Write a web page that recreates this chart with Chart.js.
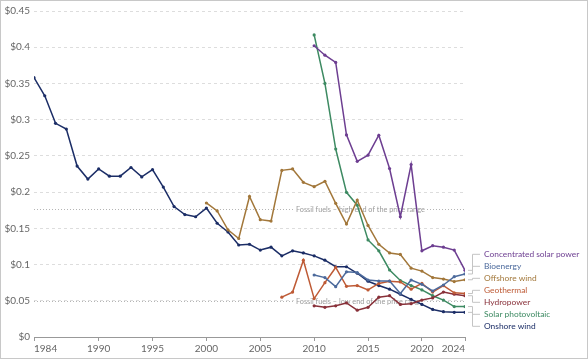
<!DOCTYPE html>
<html><head><meta charset="utf-8">
<script src="https://cdn.jsdelivr.net/npm/chart.js@4.4.1/dist/chart.umd.min.js"></script>
<style>
html,body{margin:0;padding:0;background:#fff;}
canvas{display:block;}
</style></head><body>
<canvas id="c" width="588" height="359"></canvas>
<script>
// ---- data (USD per kWh) ----
const xTickLabels = [1984, 1990, 1995, 2000, 2005, 2010, 2015, 2020, 2024];
const yTickValues = [0, 0.05, 0.1, 0.15, 0.2, 0.25, 0.3, 0.35, 0.4, 0.45];

const yearsOnshore = [1984,1985,1986,1987,1988,1989,1990,1991,1992,1993,1994,1995,1996,1997,1998,1999,2000,2001,2002,2003,2004,2005,2006,2007,2008,2009,2010,2011,2012,2013,2014,2015,2016,2017,2018,2019,2020,2021,2022,2023,2024];
const onshoreWind = [0.358,0.333,0.295,0.287,0.236,0.218,0.232,0.222,0.222,0.234,0.221,0.231,0.207,0.180,0.169,0.166,0.178,0.157,0.145,0.127,0.128,0.120,0.124,0.112,0.119,0.116,0.112,0.106,0.097,0.097,0.088,0.077,0.071,0.066,0.059,0.052,0.045,0.038,0.035,0.034,0.034];

const yearsOffshore = [2000,2001,2002,2003,2004,2005,2006,2007,2008,2009,2010,2011,2012,2013,2014,2015,2016,2017,2018,2019,2020,2021,2022,2023,2024];
const offshoreWind = [0.185,0.174,0.148,0.136,0.194,0.162,0.160,0.230,0.232,0.2135,0.2075,0.215,0.1845,0.156,0.189,0.154,0.128,0.116,0.114,0.095,0.091,0.082,0.080,0.0765,0.079];

const yearsGeothermal = [2007,2008,2009,2010,2011,2012,2013,2014,2015,2016,2017,2018,2019,2020,2021,2022,2023,2024];
const geothermal = [0.055,0.062,0.106,0.053,0.075,0.096,0.070,0.071,0.065,0.074,0.077,0.076,0.066,0.074,0.062,0.071,0.061,0.060];

const years2010 = [2010,2011,2012,2013,2014,2015,2016,2017,2018,2019,2020,2021,2022,2023,2024];
const hydropower = [0.043,0.041,0.043,0.047,0.037,0.041,0.055,0.057,0.045,0.046,0.051,0.054,0.062,0.059,0.057];
const bioenergy = [0.0856,0.082,0.0695,0.090,0.089,0.0787,0.0773,0.0773,0.060,0.0787,0.0727,0.0635,0.0718,0.0833,0.087];
const solarPV = [0.417,0.350,0.2595,0.1997,0.182,0.134,0.119,0.0925,0.078,0.071,0.065,0.057,0.051,0.042,0.042];
const csp = [0.402,0.389,0.379,0.279,0.2425,0.251,0.2785,0.2325,0.166,0.238,0.119,0.126,0.124,0.120,0.092];

const fossilHigh = 0.177;
const fossilLow = 0.05;

const seriesNames = ["Concentrated solar power","Bioenergy","Offshore wind","Geothermal","Hydropower","Solar photovoltaic","Onshore wind"];
const seriesColors = ["#6d3e91","#4c6a9c","#a2773a","#be5a35","#883039","#3d8a62","#1b2d66"];
const seriesYears = [years2010, years2010, yearsOffshore, yearsGeothermal, years2010, years2010, yearsOnshore];
const seriesValues = [csp, bioenergy, offshoreWind, geothermal, hydropower, solarPV, onshoreWind];

const FONT = 'Lato, "Open Sans", sans-serif';

const datasets = seriesNames.map((n, k) => ({
  label: n,
  data: seriesYears[k].map((yr, i) => ({x: yr, y: seriesValues[k][i]})),
  borderColor: seriesColors[k],
  backgroundColor: seriesColors[k],
  borderWidth: 1.5,
  pointRadius: 1.6,
  pointBorderWidth: 0,
  pointHoverRadius: 0,
  tension: 0,
  fill: false
}));

const fossilPlugin = {
  id: 'fossil',
  beforeDatasetsDraw(chart) {
    const {ctx, chartArea, scales} = chart;
    const items = [[fossilHigh, "Fossil fuels – high end of the price range"], [fossilLow, "Fossil fuels – low end of the price range"]];
    ctx.save();
    items.forEach(([v, txt]) => {
      const y = Math.round(scales.y.getPixelForValue(v)) + 0.5;
      ctx.strokeStyle = '#b5b5b5';
      ctx.lineWidth = 1;
      ctx.setLineDash([1, 2]);
      ctx.beginPath();
      ctx.moveTo(chartArea.left, y);
      ctx.lineTo(chartArea.right, y);
      ctx.stroke();
      ctx.setLineDash([]);
      ctx.font = '7.3px ' + FONT;
      const w = ctx.measureText(txt).width;
      const x0 = 296;
      ctx.fillStyle = '#fff';
      ctx.fillRect(x0 - 2, y - 5, w + 4, 10);
      ctx.fillStyle = '#9a9a9a';
      ctx.textBaseline = 'middle';
      ctx.textAlign = 'left';
      ctx.fillText(txt, x0, y);
    });
    ctx.restore();
  }
};

const labelPlugin = {
  id: 'endLabels',
  afterDatasetsDraw(chart) {
    const {ctx, scales} = chart;
    const ends = seriesValues.map((vals, k) => {
      const yrs = seriesYears[k];
      return {k, x: scales.x.getPixelForValue(yrs[yrs.length - 1]), y: scales.y.getPixelForValue(vals[vals.length - 1])};
    });
    ends.sort((a, b) => a.y - b.y);
    const gap = 12;
    const mean = ends.reduce((s, e) => s + e.y, 0) / ends.length;
    const start = mean - gap * (ends.length - 1) / 2;
    ctx.save();
    ctx.font = '8.4px ' + FONT;
    ctx.textBaseline = 'middle';
    ctx.textAlign = 'left';
    ends.forEach((e, i) => {
      const ly = start + i * gap;
      ctx.strokeStyle = '#c4c4c4';
      ctx.lineWidth = 1;
      ctx.beginPath();
      ctx.moveTo(e.x + 3, e.y);
      ctx.lineTo(472.5, e.y);
      ctx.lineTo(472.5, ly);
      ctx.lineTo(480, ly);
      ctx.stroke();
      ctx.fillStyle = seriesColors[e.k];
      ctx.fillText(seriesNames[e.k], 484, ly);
    });
    ctx.restore();
  },
  afterDraw(chart) {
    const ctx = chart.ctx;
    ctx.save();
    ctx.strokeStyle = '#c8c8c8';
    ctx.lineWidth = 1;
    ctx.strokeRect(0.5, 0.5, 587, 358);
    ctx.restore();
  }
};

new Chart(document.getElementById('c'), {
  type: 'line',
  data: {datasets},
  options: {
    responsive: false,
    animation: false,
    layout: {padding: {top: 11, right: 123, left: 0, bottom: 0}},
    plugins: {legend: {display: false}, tooltip: {enabled: false}},
    scales: {
      x: {
        type: 'linear', min: 1984, max: 2024,
        afterBuildTicks: s => { s.ticks = xTickLabels.map(v => ({value: v})); },
        afterFit: s => { s.height = 22; },
        grid: {drawOnChartArea: false, drawTicks: true, tickLength: 4, color: '#999'},
        border: {display: true, color: '#999'},
        ticks: {color: '#666', font: {family: FONT, size: 10}, padding: 2, maxRotation: 0, autoSkip: false, align: 'inner', callback: v => String(v)}
      },
      y: {
        min: 0, max: 0.45,
        afterBuildTicks: s => { s.ticks = yTickValues.map(v => ({value: v})); },
        afterFit: s => { s.width = 34; },
        grid: {color: '#dddddd', drawTicks: false},
        border: {display: false, dash: [3, 3]},
        ticks: {color: '#666', font: {family: FONT, size: 10}, padding: 4, callback: v => '$' + (+Number(v).toFixed(2))}
      }
    }
  },
  plugins: [fossilPlugin, labelPlugin]
});
</script>
</body></html>
